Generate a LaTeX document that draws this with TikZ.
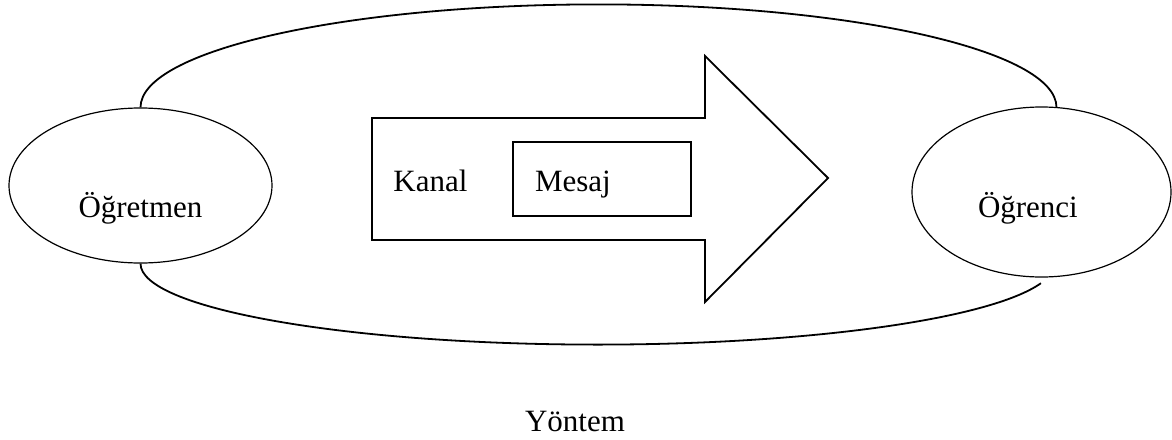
\documentclass[tikz,border=0pt]{standalone}
\usepackage{fontspec}
\setmainfont{Liberation Serif}
\usetikzlibrary{shapes.geometric}
\tikzset{
	kisi/.style={ellipse,draw,line width=0.6pt,fill=white,inner sep=0pt,text depth=0.5pt},
	yazi/.style={font=\fontsize{15.5}{18}\selectfont},
	cizgi/.style={line width=0.9pt},
}
\begin{document}
\begin{tikzpicture}[x=0.5pt,y=-0.5pt,yazi]
	\useasboundingbox (0,0) rectangle (1172,439);
	\node[kisi,minimum width=131.5pt,minimum height=77.5pt,text height=32pt] (ogretmen) at (140.5,185.5) {Öğretmen};
	\node[kisi,minimum width=129.5pt,minimum height=85pt,text height=25.5pt,text width=63.5pt,align=left] (ogrenci) at (1041.5,192) {Öğrenci};
	% kanal oku
	\draw[cizgi] (372,118) -- (705,118) -- (705,56) -- (828,178) -- (705,302) -- (705,240) -- (372,240) -- cycle;
	\node[anchor=base west,inner sep=0pt] (kanal) at (393,191) {Kanal};
	\node[draw,cizgi,minimum width=89pt,minimum height=37pt,inner xsep=11pt,text width=67pt,align=left,text height=12.5pt,text depth=0.5pt] (mesaj) at (602,179) {Mesaj};
	\node[anchor=base,inner sep=0pt] (yontem) at (575,431) {Yöntem};
	%\draw (ogretmen) -- (ogrenci);
	\draw[cizgi] (ogretmen.north) arc[start angle=180,end angle=360,x radius=458,y radius=103];
	\draw[cizgi] (ogretmen.south) arc[start angle=180,end angle=14,x radius=457,y radius=81];
\end{tikzpicture}
\end{document}
